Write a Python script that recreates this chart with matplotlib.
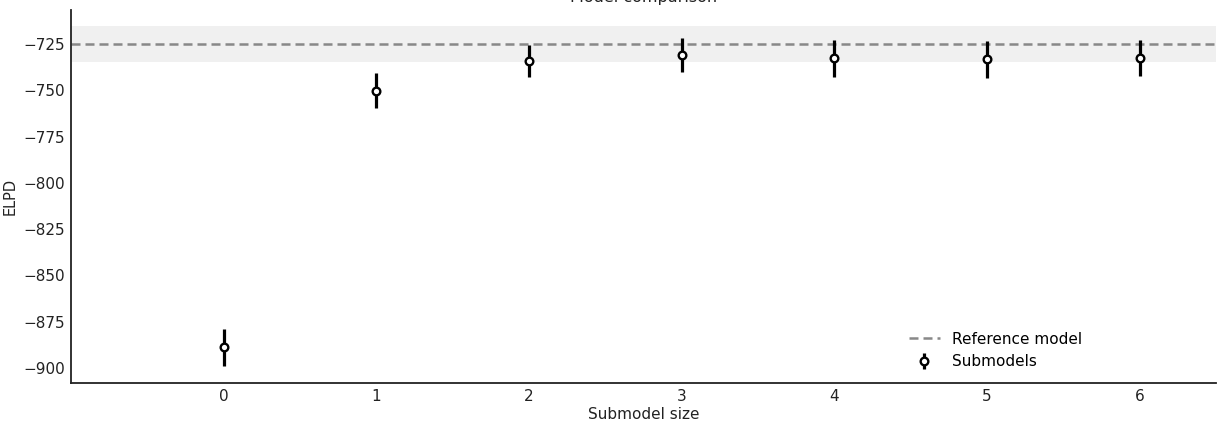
import matplotlib
matplotlib.use('Agg')
import matplotlib.pyplot as plt

# submodel sizes and ELPD estimates
sizes = [0, 1, 2, 3, 4, 5, 6]
elpd = [-888.8, -750.2, -734.2, -731.0, -732.7, -733.2, -732.5]
elpd_se = [10.0, 9.4, 8.8, 9.3, 9.9, 10.0, 9.8]

ref_elpd = -724.8
ref_se = 9.8

fig = plt.figure(figsize=(12.22, 4.24), dpi=100)
fig.patch.set_facecolor('white')
ax = fig.add_axes([0.0581, 0.0967, 0.9370, 0.8797])

ax.axhspan(ref_elpd - ref_se, ref_elpd + ref_se, color='#f0f0f0', lw=0, zorder=0)
ax.axhline(ref_elpd, color='#888888', ls=(0, (3.6, 2.0)), lw=1.8,
           label='Reference model', zorder=1)
ax.errorbar(sizes, elpd, yerr=elpd_se, fmt='o', color='black', mfc='white',
            mec='black', ms=5.5, mew=1.7, elinewidth=2.3, capsize=0,
            label='Submodels', zorder=3)

ax.set_xlim(-1.0, 6.5)
ax.set_ylim(-908.1, -706.6)
ax.set_xticks(sizes)
ax.set_yticks([-900, -875, -850, -825, -800, -775, -750, -725])

for s in ['top', 'right']:
    ax.spines[s].set_visible(False)
for s in ['left', 'bottom']:
    ax.spines[s].set_color('#222222')
    ax.spines[s].set_linewidth(1.3)
ax.tick_params(length=0, labelsize=11, labelcolor='#222222', pad=4.5)

ax.set_xlabel('Submodel size', fontsize=11, color='#222222', labelpad=2)
ax.set_ylabel('ELPD', fontsize=10.5, color='#222222', labelpad=4)
ax.set_title('Model comparison', fontsize=11.5, color='#222222')

ax.legend(loc='lower right', bbox_to_anchor=(0.895, 0.0), frameon=False, fontsize=11)

fig.savefig('out.png', dpi=100, facecolor='white')
plt.close()
